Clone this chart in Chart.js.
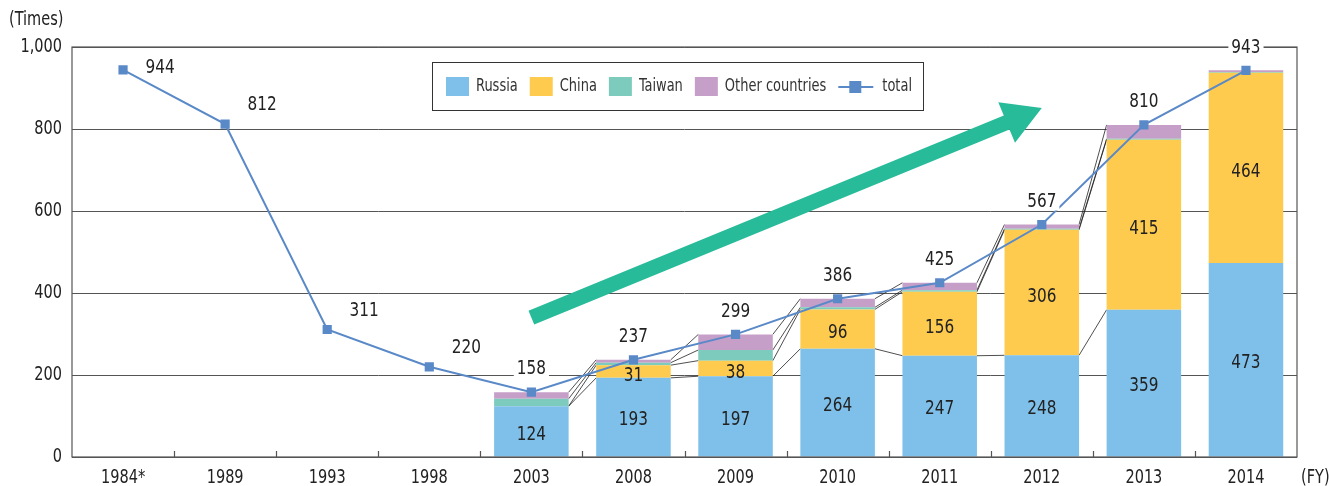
<!DOCTYPE html>
<html>
<head>
<meta charset="utf-8">
<script src="https://cdn.jsdelivr.net/npm/chart.js@4"></script>
<style>
  html, body { margin: 0; padding: 0; background: #fff; }
  #wrap { width: 1329px; height: 486px; }
</style>
</head>
<body>
<div id="wrap"><canvas id="visits"></canvas></div>
<script>
// fiscal years and visits per country (times)
const years = ["1984*", "1989", "1993", "1998", "2003", "2008", "2009", "2010", "2011", "2012", "2013", "2014"];
const russia = [null, null, null, null, 124, 193, 197, 264, 247, 248, 359, 473];
const china = [null, null, null, null, 0, 31, 38, 96, 156, 306, 415, 464];
const taiwan = [null, null, null, null, 18, 6, 26, 5, 4, 3, 2, 2];
const others = [null, null, null, null, 16, 7, 38, 21, 18, 10, 34, 4];
const total = [944, 812, 311, 220, 158, 237, 299, 386, 425, 567, 810, 943];
const yTicks = [0, 200, 400, 600, 800, 1000];

// trend arrow, in data units (category index, value)
const arrowFrom = { x: 4, y: 340 };
const arrowTo = { x: 9, y: 851 };

const FONT = "'DejaVu Sans Condensed', 'Liberation Sans', sans-serif";
Chart.defaults.font.family = FONT;

const colors = {
	russia: "#7fc0ea",
	china: "#fecb4e",
	taiwan: "#7dcbbd",
	others: "#c69fc9",
	total: "#5a89c8",
	arrow: "#27bb99",
};

// narrow text: the original uses a condensed face
function txt(ctx, s, x, y, size, align, color) {
	ctx.save();
	ctx.font = size + "px " + FONT;
	ctx.textAlign = align || "center";
	ctx.textBaseline = "middle";
	ctx.fillStyle = color || "#222";
	ctx.translate(x, y);
	ctx.scale(0.85, 1);
	ctx.fillText(s, 0, 0);
	ctx.restore();
}
function txtWidth(ctx, s, size) {
	ctx.save();
	ctx.font = size + "px " + FONT;
	const w = ctx.measureText(s).width * 0.85;
	ctx.restore();
	return w;
}

// thin lines joining segment tops of neighbouring bars, and the trend arrow
const underlay = {
	id: "underlay",
	beforeDatasetsDraw(chart) {
		const ctx = chart.ctx;
		const bars = [1, 2, 3, 4].map((i) => chart.getDatasetMeta(i).data);
		ctx.save();
		ctx.strokeStyle = "#222";
		ctx.lineWidth = 0.8;
		for (let i = 4; i < 10; i++) {
			bars.forEach((seg) => {
				const a = seg[i], b = seg[i + 1];
				ctx.beginPath();
				ctx.moveTo(a.x + a.width / 2, a.y);
				ctx.lineTo(b.x - b.width / 2, b.y);
				ctx.stroke();
			});
		}
		// arrow
		const xs = chart.scales.x, ys = chart.scales.y;
		const x0 = xs.getPixelForValue(arrowFrom.x), y0 = ys.getPixelForValue(arrowFrom.y);
		const x1 = xs.getPixelForValue(arrowTo.x), y1 = ys.getPixelForValue(arrowTo.y);
		const len = Math.hypot(x1 - x0, y1 - y0);
		const ux = (x1 - x0) / len, uy = (y1 - y0) / len;
		const nx = -uy, ny = ux;
		const sw = 7.5, hw = 22, hl = 38;
		const bx = x1 - ux * hl, by = y1 - uy * hl;
		ctx.fillStyle = colors.arrow;
		ctx.beginPath();
		ctx.moveTo(x0 + nx * sw, y0 + ny * sw);
		ctx.lineTo(bx + nx * sw, by + ny * sw);
		ctx.lineTo(bx + nx * hw, by + ny * hw);
		ctx.lineTo(x1, y1);
		ctx.lineTo(bx - nx * hw, by - ny * hw);
		ctx.lineTo(bx - nx * sw, by - ny * sw);
		ctx.lineTo(x0 - nx * sw, y0 - ny * sw);
		ctx.closePath();
		ctx.fill();
		ctx.restore();
	},
};

const overlay = {
	id: "overlay",
	afterDraw(chart) {
		const ctx = chart.ctx;
		const area = chart.chartArea;
		const xs = chart.scales.x, ys = chart.scales.y;
		ctx.save();

		// frame
		ctx.strokeStyle = "#555";
		ctx.lineWidth = 1.2;
		ctx.strokeRect(area.left, area.top, area.right - area.left, area.bottom - area.top);

		// tick marks between categories, pointing up
		ctx.beginPath();
		for (let i = 1; i < years.length; i++) {
			const x = Math.round((xs.getPixelForValue(i - 1) + xs.getPixelForValue(i)) / 2) + 0.5;
			ctx.moveTo(x, area.bottom);
			ctx.lineTo(x, area.bottom - 6);
		}
		ctx.stroke();

		// axis labels
		years.forEach((y, i) => txt(ctx, y, xs.getPixelForValue(i), area.bottom + 21, 19));
		yTicks.forEach((v) => txt(ctx, v.toLocaleString("en-US"), area.left - 10, ys.getPixelForValue(v), 19, "right"));
		txt(ctx, "(Times)", 9, 20, 19, "left");
		txt(ctx, "(FY)", area.right + 4, area.bottom + 21, 19, "left");

		// values inside bars
		const ru = chart.getDatasetMeta(1).data;
		const cn = chart.getDatasetMeta(2).data;
		years.forEach((y, i) => {
			if (russia[i]) txt(ctx, String(russia[i]), ru[i].x, (ru[i].y + ru[i].base) / 2 + 3, 20);
			if (china[i]) txt(ctx, String(china[i]), cn[i].x, (cn[i].y + cn[i].base) / 2 + 4, 20);
		});

		// totals
		const pts = chart.getDatasetMeta(0).data;
		const top = chart.getDatasetMeta(4).data;
		total.forEach((v, i) => {
			let x, y;
			if (i < 4) {
				x = pts[i].x + 37;
				y = pts[i].y - (i === 0 ? 2 : 19);
			} else {
				x = pts[i].x;
				y = Math.min(top[i].y, pts[i].y) - 23;
			}
			const w = txtWidth(ctx, String(v), 20);
			ctx.fillStyle = "#fff";
			ctx.fillRect(x - w / 2 - 3, y - 9, w + 6, 18);
			txt(ctx, String(v), x, y, 20);
		});

		// legend box
		const lx = 432, ly = 62, lw = 491, lh = 48;
		ctx.fillStyle = "#fff";
		ctx.fillRect(lx, ly, lw, lh);
		ctx.strokeStyle = "#333";
		ctx.lineWidth = 1;
		ctx.strokeRect(lx + 0.5, ly + 0.5, lw, lh);
		const cy = ly + lh / 2 + 1;
		let cx = lx + 14;
		chart.data.datasets.slice(1).concat(chart.data.datasets[0]).forEach((ds) => {
			if (ds.type === "line") {
				ctx.strokeStyle = ds.borderColor;
				ctx.lineWidth = 2;
				ctx.beginPath();
				ctx.moveTo(cx, cy);
				ctx.lineTo(cx + 35, cy);
				ctx.stroke();
				ctx.fillStyle = ds.borderColor;
				ctx.fillRect(cx + 11, cy - 6, 12, 12);
				cx += 44;
			} else {
				ctx.fillStyle = ds.backgroundColor;
				ctx.fillRect(cx, cy - 10, 23, 19);
				cx += 30;
			}
			txt(ctx, ds.label, cx, cy, 17, "left", "#333");
			cx += txtWidth(ctx, ds.label, 17) + 12;
		});
		ctx.restore();
	},
};

const barSet = (label, data, color) => ({
	type: "bar",
	label: label,
	data: data,
	backgroundColor: color,
	borderWidth: 0,
	stack: "visits",
	categoryPercentage: 1,
	barPercentage: 0.73,
});

const visitsChart = new Chart(document.getElementById("visits"), {
	data: {
		labels: years,
		datasets: [
			{
				type: "line",
				label: "total",
				data: total,
				borderColor: colors.total,
				backgroundColor: colors.total,
				borderWidth: 2,
				pointStyle: "rect",
				pointRadius: 6.5,
				pointBorderWidth: 0,
				tension: 0,
			},
			barSet("Russia", russia, colors.russia),
			barSet("China", china, colors.china),
			barSet("Taiwan", taiwan, colors.taiwan),
			barSet("Other countries", others, colors.others),
		],
	},
	options: {
		responsive: true,
		maintainAspectRatio: false,
		animation: false,
		layout: { padding: { top: 47, right: 32, left: 10, bottom: 0 } },
		plugins: {
			legend: { display: false },
			tooltip: { enabled: false },
		},
		scales: {
			x: {
				offset: true,
				grid: { display: false },
				border: { display: false },
				ticks: { display: false },
				afterFit(scale) { scale.height = 29; },
			},
			y: {
				stacked: true,
				min: 0,
				max: 1000,
				afterBuildTicks(scale) { scale.ticks = yTicks.map((v) => ({ value: v })); },
				grid: { color: "#555", lineWidth: 1, drawTicks: false },
				border: { display: false },
				ticks: { display: false },
				afterFit(scale) { scale.width = 62; },
			},
		},
	},
	plugins: [underlay, overlay],
});
</script>
</body>
</html>
